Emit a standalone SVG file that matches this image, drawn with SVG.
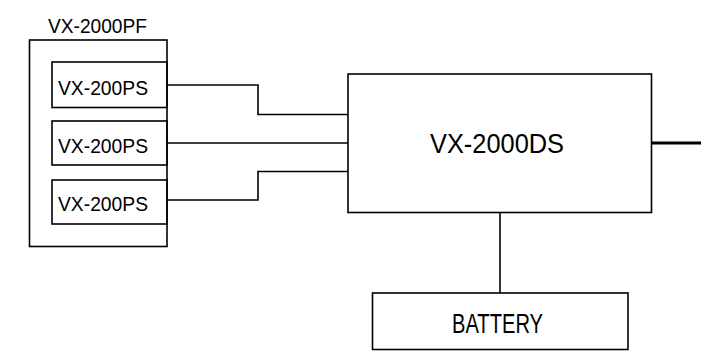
<svg xmlns="http://www.w3.org/2000/svg" width="701" height="360" viewBox="0 0 701 360">
<style>
.box{fill:none;stroke:#000;stroke-width:1.6}
.ln{fill:none;stroke:#000;stroke-width:1.6}
text{font-family:"Liberation Sans",Arial,sans-serif;fill:#000}
.s{font-size:21px}
.l{font-size:28.5px}
</style>
<rect width="701" height="360" fill="#fff"/>
<g id="pf">
<rect class="box" x="29.5" y="40" width="137.5" height="206.5"/>
<text class="s" x="48" y="33" textLength="99" lengthAdjust="spacingAndGlyphs">VX-2000PF</text>
</g>
<g id="ps1">
<rect class="box" x="52" y="62" width="115" height="45.5"/>
<text class="s" x="58" y="95" textLength="90" lengthAdjust="spacingAndGlyphs">VX-200PS</text>
</g>
<g id="ps2">
<rect class="box" x="52" y="121" width="115" height="44"/>
<text class="s" x="58" y="153" textLength="90" lengthAdjust="spacingAndGlyphs">VX-200PS</text>
</g>
<g id="ps3">
<rect class="box" x="52" y="180" width="115" height="44"/>
<text class="s" x="58" y="210.5" textLength="90" lengthAdjust="spacingAndGlyphs">VX-200PS</text>
</g>
<g id="ds">
<rect class="box" x="348" y="74" width="303.5" height="138.5"/>
<text class="l" x="430" y="153" textLength="134" lengthAdjust="spacingAndGlyphs">VX-2000DS</text>
</g>
<g id="battery">
<rect class="box" x="372.5" y="293" width="255.5" height="56.5"/>
<text class="l" x="452" y="333" textLength="91" lengthAdjust="spacingAndGlyphs">BATTERY</text>
</g>
<g id="connectors">
<polyline class="ln" points="167,85 258,85 258,114.5 348,114.5"/>
<line class="ln" x1="167" y1="143" x2="348" y2="143"/>
<polyline class="ln" points="167,200 258,200 258,171.5 348,171.5"/>
<line class="ln" x1="500" y1="212.5" x2="500" y2="293"/>
<line x1="651.5" y1="143" x2="701" y2="143" stroke="#000" stroke-width="3.2"/>
</g>
</svg>
